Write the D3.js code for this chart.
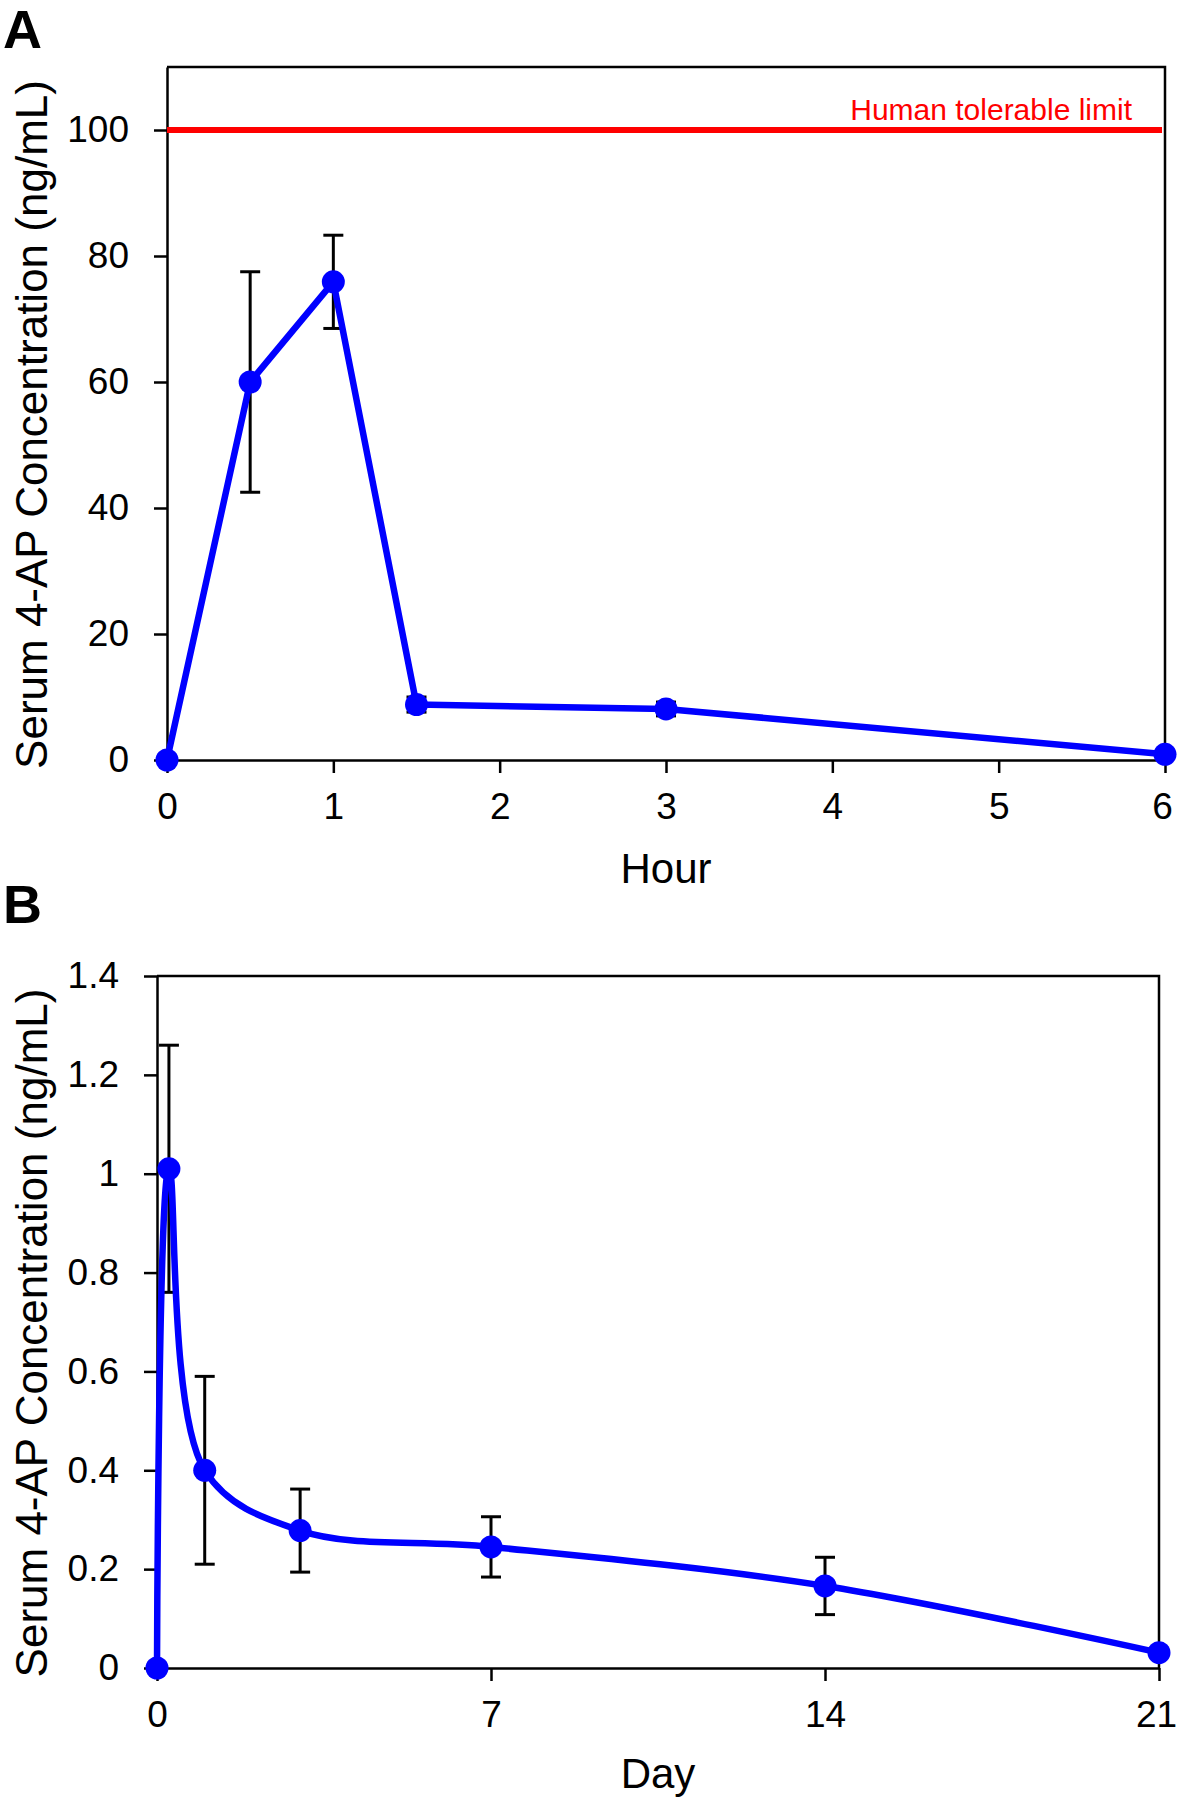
<!DOCTYPE html>
<html>
<head>
<meta charset="utf-8">
<script src="https://cdn.jsdelivr.net/npm/d3@7"></script>
<style>
  body { margin: 0; background: #fff; }
  svg { display: block; }
  text { font-family: "Liberation Sans", Arial, sans-serif; }
</style>
</head>
<body>
<svg width="1179" height="1800"></svg>
<script>
// Panel A: hours after dosing
const hours = [0, 0.5, 1, 1.5, 3, 6];
const hourConc = [0, 60, 75.9, 8.8, 8.1, 0.9];
const hourErr = [0, 17.5, 7.4, 1.2, 1.1, 0];
const hourTicks = [0, 1, 2, 3, 4, 5, 6];
const hourYTicks = [0, 20, 40, 60, 80, 100];
const tolerableLimit = 100;

// Panel B: days after dosing
const days = [0, 0.25, 1, 3, 7, 14, 21];
const dayConc = [0, 1.01, 0.40, 0.278, 0.245, 0.166, 0.031];
const dayErr = [0, 0.25, 0.19, 0.084, 0.061, 0.058, 0];
const dayTicks = [0, 7, 14, 21];
const dayYTicks = [0, 0.2, 0.4, 0.6, 0.8, 1, 1.2, 1.4];
const dayYLabels = ['0', '0.2', '0.4', '0.6', '0.8', '1', '1.2', '1.4'];

const yTitle = 'Serum 4-AP Concentration (ng/mL)';
const blue = '#0000ff';

const svg = d3.select('svg');

function styleAxis(g) {
  g.select('.domain').attr('stroke', '#000').attr('stroke-width', 2.5);
  g.selectAll('.tick line').attr('stroke', '#000').attr('stroke-width', 2.5);
  g.selectAll('.tick text').attr('fill', '#000').style('font-size', '37px');
}

function drawPanel(p) {
  const x = d3.scaleLinear().domain(p.xDomain).range([p.left, p.right]);
  const y = d3.scaleLinear().domain(p.yDomain).range([p.bottom, p.top]);
  const g = svg.append('g');

  // frame (top + right)
  g.append('path')
    .attr('d', `M${p.left},${p.top}H${p.right}V${p.bottom}`)
    .attr('fill', 'none')
    .attr('stroke', '#000')
    .attr('stroke-width', 2.5);

  const xg = g.append('g')
    .attr('transform', `translate(0,${p.bottom})`)
    .call(d3.axisBottom(x).tickValues(p.xTicks).tickSize(13).tickSizeOuter(0).tickPadding(20).tickFormat(d3.format('d')))
    .call(styleAxis);
  // last label sits right on the page edge, nudge it in a touch
  xg.selectAll('.tick text').filter(d => d === p.xDomain[1]).attr('dx', -3);

  const yAxis = d3.axisLeft(y).tickValues(p.yTicks).tickSize(13).tickSizeOuter(0).tickPadding(25);
  if (p.yLabels) yAxis.tickFormat((d, i) => p.yLabels[i]);
  g.append('g')
    .attr('transform', `translate(${p.left},0)`)
    .call(yAxis)
    .call(styleAxis);

  if (p.extra) p.extra(g, x, y);

  const pts = p.xs.map((v, i) => ({x: v, y: p.ys[i], e: p.errs[i]}));

  // error bars
  const eb = g.append('g').attr('stroke', '#000').attr('stroke-width', 3);
  pts.filter(d => d.e > 0).forEach(d => {
    eb.append('line')
      .attr('x1', x(d.x)).attr('x2', x(d.x))
      .attr('y1', y(d.y - d.e)).attr('y2', y(d.y + d.e));
    [d.y - d.e, d.y + d.e].forEach(v => {
      eb.append('line')
        .attr('x1', x(d.x) - 10).attr('x2', x(d.x) + 10)
        .attr('y1', y(v)).attr('y2', y(v));
    });
  });

  const line = d3.line()
    .x(d => x(d.x))
    .y(d => y(d.y))
    .curve(p.curve);

  g.append('path')
    .datum(pts)
    .attr('fill', 'none')
    .attr('stroke', blue)
    .attr('stroke-width', 6.5)
    .attr('stroke-linejoin', 'round')
    .attr('d', line);

  g.selectAll('.pt')
    .data(pts)
    .enter().append('circle')
      .attr('class', 'pt')
      .attr('cx', d => x(d.x))
      .attr('cy', d => y(d.y))
      .attr('r', 11.5)
      .attr('fill', blue);

  // panel letter
  svg.append('text')
    .attr('x', 3)
    .attr('y', p.letterY)
    .style('font-size', '54px')
    .style('font-weight', 'bold')
    .text(p.letter);

  // axis titles
  svg.append('text')
    .attr('text-anchor', 'middle')
    .attr('x', (p.left + p.right) / 2)
    .attr('y', p.xTitleY)
    .style('font-size', '42px')
    .text(p.xTitle);

  svg.append('text')
    .attr('text-anchor', 'middle')
    .attr('transform', `translate(47,${(p.top + p.bottom) / 2 + 11}) rotate(-90)`)
    .style('font-size', '44px')
    .text(yTitle);
}

drawPanel({
  left: 167, right: 1165, top: 67, bottom: 760,
  xDomain: [0, 6], yDomain: [0, 110],
  xTicks: hourTicks, yTicks: hourYTicks,
  xs: hours, ys: hourConc, errs: hourErr,
  curve: d3.curveLinear,
  letter: 'A', letterY: 48,
  xTitle: 'Hour', xTitleY: 883,
  extra: (g, x, y) => {
    g.append('line')
      .attr('x1', x(0)).attr('x2', x(6) - 3)
      .attr('y1', y(tolerableLimit)).attr('y2', y(tolerableLimit))
      .attr('stroke', '#ff0000')
      .attr('stroke-width', 6);
    g.append('text')
      .attr('x', 1132)
      .attr('y', y(tolerableLimit) - 10)
      .attr('text-anchor', 'end')
      .attr('fill', '#ff0000')
      .style('font-size', '30px')
      .text('Human tolerable limit');
  }
});

drawPanel({
  left: 157, right: 1159, top: 976, bottom: 1668,
  xDomain: [0, 21], yDomain: [0, 1.4],
  xTicks: dayTicks, yTicks: dayYTicks, yLabels: dayYLabels,
  xs: days, ys: dayConc, errs: dayErr,
  curve: d3.curveCatmullRom.alpha(0.5),
  letter: 'B', letterY: 923,
  xTitle: 'Day', xTitleY: 1788
});
</script>
</body>
</html>
